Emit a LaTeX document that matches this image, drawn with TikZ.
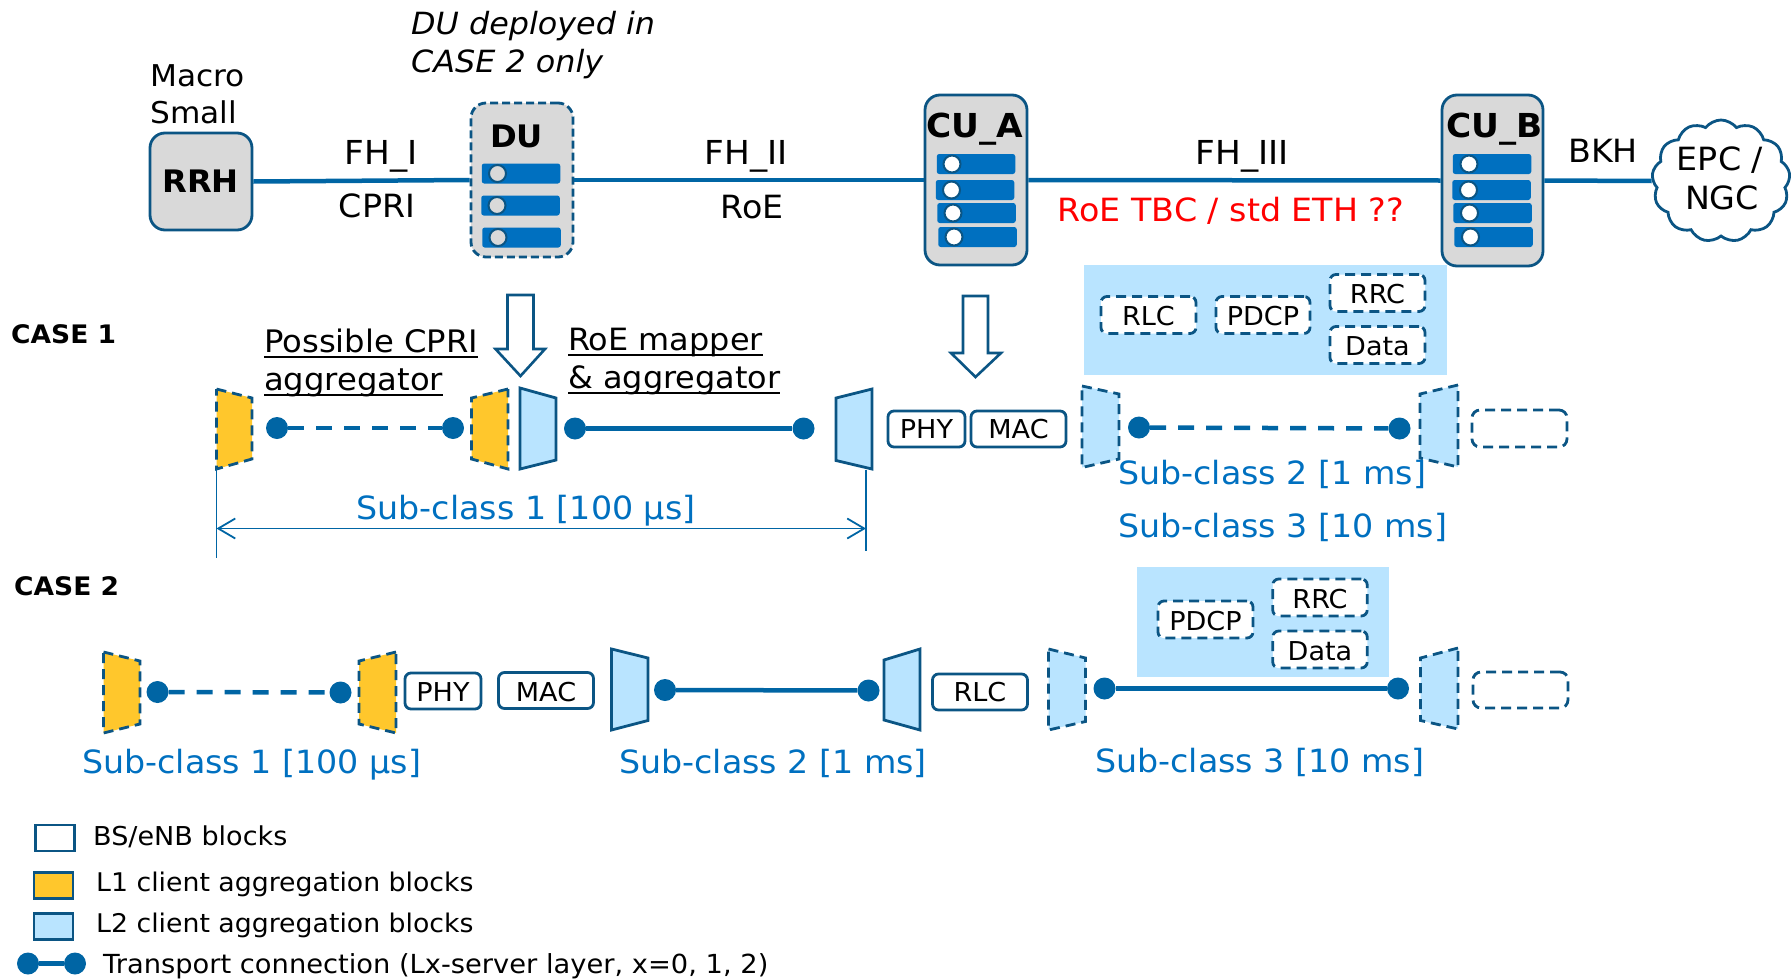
\documentclass[tikz,border=0pt]{standalone}
\usepackage{fontspec}
\setmainfont[FakeStretch=1.04]{DejaVu Sans}
\usetikzlibrary{shapes.symbols,arrows.meta,calc}
\definecolor{edgeblue}{HTML}{0B5584}
\definecolor{linkblue}{HTML}{0065A4}
\definecolor{slotblue}{HTML}{0070C0}
\definecolor{paleblue}{HTML}{B9E4FF}
\definecolor{amber}{HTML}{FFC72C}
\definecolor{panelgray}{HTML}{D9D9D9}
\newcommand\fs[1]{\fontsize{#1}{#1}\selectfont}
\newcommand\ulined[1]{\setbox0=\hbox{#1}\rlap{\rule[-6pt]{\wd0}{2pt}}\box0 }
\tikzset{
  lbl/.style={inner sep=0pt,anchor=base,text=black,font=\fs{32}},
  lblw/.style={lbl,anchor=base west},
  subcl/.style={inner sep=0pt,anchor=base west,text=slotblue,font=\fs{32}},
  legendtxt/.style={inner sep=0pt,anchor=base west,text=black,font=\fs{26}},
  casehead/.style={inner sep=0pt,anchor=base west,text=black,font=\bfseries\fs{25.5}},
  unit/.style={draw=edgeblue,line width=2.8pt,fill=panelgray,rounded corners=15pt,inner sep=0pt},
  unithead/.style={inner sep=0pt,anchor=base,text=black,font=\bfseries\fs{31}},
  slot/.style={fill=slotblue,rounded corners=2.5pt,inner sep=0pt,minimum width=78.5pt,minimum height=20pt},
  knobg/.style={circle,draw=edgeblue,line width=2pt,fill=panelgray,inner sep=0pt,minimum size=17pt},
  knobw/.style={knobg,fill=white},
  layerbox/.style={draw=edgeblue,line width=2.8pt,fill=white,rounded corners=6pt,inner sep=0pt,font=\fs{26},text=black},
  dashbox/.style={layerbox,dash pattern=on 10pt off 6pt,text height=21pt,text depth=0pt},
  panel/.style={fill=paleblue,inner sep=0pt},
  dot/.style={circle,fill=linkblue,inner sep=0pt,minimum size=22pt},
  linkline/.style={draw=linkblue,line width=4.5pt},
  linkdash/.style={linkline,dash pattern=on 16pt off 12pt},
  trapsolid/.style={draw=edgeblue,line width=2.8pt,line join=miter},
  trapdash/.style={draw=edgeblue,line width=2.8pt,dash pattern=on 10pt off 6pt},
  hollow/.style={draw=edgeblue,line width=2.6pt,fill=white,line join=miter},
  span/.style={draw=linkblue,line width=1.8pt},
  legbox/.style={draw=edgeblue,line width=2.8pt,inner sep=0pt,minimum width=39pt,minimum height=26pt},
}
\begin{document}
\begin{tikzpicture}[x=1pt,y=-1pt]
\useasboundingbox (0,0) rectangle (1792,980);

% top row units
\node[unit,minimum width=102pt,minimum height=97pt] (rrh) at (201,181.5) {};
\node[unithead] (rrhl) at (200.5,192.5) {RRH};
\node[unit,dash pattern=on 8pt off 4pt,minimum width=102pt,minimum height=154pt] (du) at (522,180) {};
\node[unithead] (dul) at (516.5,147) {DU};
\node[slot] (ds1) at (521,173.5) {};
\node[slot] (ds2) at (520.5,205.5) {};
\node[slot] (ds3) at (521.5,237.5) {};
\node[knobg] (dk1) at (497.5,173.5) {};
\node[knobg] (dk2) at (497,205.5) {};
\node[knobg] (dk3) at (498,237.5) {};

\node[unit,minimum width=102pt,minimum height=170pt] (cua) at (976,180) {};
\node[unithead,font=\bfseries\fs{33}] (cual) at (974.5,137) {CU\_A};
\node[slot] (as1) at (976,164) {};
\node[slot] (as2) at (975,190) {};
\node[slot] (as3) at (976.5,213) {};
\node[slot] (as4) at (977.5,237) {};
\node[knobw] (ak1) at (952,164) {};
\node[knobw] (ak2) at (951.5,190) {};
\node[knobw] (ak3) at (953,213) {};
\node[knobw] (ak4) at (954,237) {};

\node[unit,minimum width=101pt,minimum height=171pt] (cub) at (1492.5,180.5) {};
\node[unithead,font=\bfseries\fs{33}] (cubl) at (1494.5,137) {CU\_B};
\node[slot] (bs1) at (1492,164) {};
\node[slot] (bs2) at (1491.5,190) {};
\node[slot] (bs3) at (1492.5,213) {};
\node[slot] (bs4) at (1493.5,237) {};
\node[knobw] (bk1) at (1469,164) {};
\node[knobw] (bk2) at (1468.5,190) {};
\node[knobw] (bk3) at (1469.5,213) {};
\node[knobw] (bk4) at (1470.5,237) {};

\node[cloud,cloud puffs=13,cloud puff arc=105,aspect=1.1,draw=edgeblue,line width=2.8pt,fill=white,inner sep=0pt,minimum width=138pt,minimum height=122pt] (core) at (1721,181) {};
\node[lbl] (epc) at (1720,170) {EPC /};
\node[lbl] (ngc) at (1722,209) {NGC};

\draw[linkline] (rrh.east) -- (du.west);
\draw[linkline] (du.east) -- (cua.west);
\draw[linkline] (cua.east) -- (cub.west);
\draw[linkline] (cub.east) -- (core.west);

% top labels
\node[inner sep=0pt,anchor=west,align=left,font=\fontsize{30}{37.5}\selectfont] (macro) at (150,94.5) {Macro\\Small};
\node[inner sep=0pt,anchor=west,align=left,font=\itshape\fontsize{30.6}{37.5}\selectfont] (dunote) at (411,45) {DU deployed in\\CASE 2 only};
\node[lbl,font=\fs{33}] (fh1) at (381,164) {FH\_I};
\node[lbl] (cpri) at (377,217) {CPRI};
\node[lbl,font=\fs{33}] (fh2) at (746,164) {FH\_II};
\node[lbl] (roe) at (752,218) {RoE};
\node[lbl,font=\fs{33}] (fh3) at (1242,164) {FH\_III};
\node[lbl] (tbc) at (1231,221) {\textcolor{red}{RoE TBC / std ETH ??}};
\node[lbl] (bkh) at (1603,162) {BKH};

% block arrows
\draw[hollow] (507.5,295) -- (533.5,295) -- (533.5,349) -- (545,349) -- (520.5,376) -- (495.5,349) -- (507.5,349) -- cycle;
\draw[hollow] (963,296) -- (988,296) -- (988,353) -- (1001,353) -- (975.5,377) -- (951,353) -- (963,353) -- cycle;

% case 1
\node[casehead] (case1) at (11,343) {CASE 1};
\node[inner sep=0pt,anchor=west,align=left,font=\fontsize{31}{38}\selectfont] (aggl) at (264,362.5) {\ulined{Possible CPRI}\\\ulined{aggregator}};
\node[inner sep=0pt,anchor=west,align=left,font=\fontsize{30.7}{38}\selectfont] (aggr) at (568,361) {\ulined{RoE mapper}\\\ulined{\& aggregator}};

\node[panel,minimum width=363pt,minimum height=110pt] (panel1) at (1265.5,320) {};
\node[dashbox,minimum width=95pt,minimum height=37pt] (rlc1) at (1148.5,315) {RLC};
\node[dashbox,minimum width=94pt,minimum height=37pt] (pdcp1) at (1263,315) {PDCP};
\node[dashbox,minimum width=95pt,minimum height=37pt] (rrc1) at (1377.5,293) {RRC};
\node[dashbox,minimum width=95pt,minimum height=37pt] (data1) at (1377.5,345) {Data};

\draw[trapdash,fill=amber] (216.5,389) -- (252,398) -- (252,459) -- (216.5,469) -- cycle;
\draw[trapdash,fill=amber] (508,389) -- (471.5,398) -- (471.5,459) -- (508,469) -- cycle;
\draw[trapsolid,fill=paleblue] (520,388) -- (556,398) -- (556,460) -- (520,469) -- cycle;
\draw[trapsolid,fill=paleblue] (872,389) -- (836,398) -- (836,460.5) -- (872,469) -- cycle;
\draw[trapdash,fill=paleblue] (1082,386) -- (1119,394) -- (1119,459) -- (1082,467.5) -- cycle;
\draw[trapdash,fill=paleblue] (1458,385) -- (1420,394) -- (1420,458) -- (1458,467) -- cycle;

\node[dot] (c1a) at (277,428) {};
\node[dot] (c1b) at (453,428) {};
\node[dot] (c1c) at (575,428.5) {};
\node[dot] (c1d) at (803.5,428.5) {};
\node[dot] (c1e) at (1139,427.5) {};
\node[dot] (c1f) at (1399.5,428.5) {};
\draw[linkdash] (c1a) -- (c1b);
\draw[linkline] (c1c) -- (c1d);
\draw[linkdash] (c1e) -- (c1f);

\node[layerbox,minimum width=77pt,minimum height=36pt] (phy1) at (926.5,429) {PHY};
\node[layerbox,minimum width=95pt,minimum height=36pt] (mac1) at (1018.5,429) {MAC};
\node[dashbox,minimum width=95pt,minimum height=37pt,rounded corners=8pt] (empty1) at (1519.5,428.5) {};

\coordinate (spanLtop) at (216.5,469);
\coordinate (spanLbot) at (216.5,558);
\coordinate (spanRtop) at (866,470);
\coordinate (spanRbot) at (866,551);
\coordinate (spanL) at (216.5,528.5);
\coordinate (spanR) at (866,528.5);
\draw[span] (spanLtop) -- (spanLbot);
\draw[span] (spanRtop) -- (spanRbot);
\draw[span,{Straight Barb[length=17pt,width=20pt]}-{Straight Barb[length=17pt,width=20pt]}] (spanL) -- (spanR);

\node[subcl,anchor=base] (sc11) at (526,519.5) {Sub-class 1 [100 μs]};
\node[subcl] (sc12) at (1118,484) {Sub-class 2 [1 ms]};
\node[subcl] (sc13) at (1118,537) {Sub-class 3 [10 ms]};

% case 2
\node[casehead] (case2) at (14,595) {CASE 2};
\node[panel,minimum width=252pt,minimum height=110pt] (panel2) at (1263,622) {};
\node[dashbox,minimum width=95pt,minimum height=37pt] (pdcp2) at (1205.5,619.5) {PDCP};
\node[dashbox,minimum width=94.5pt,minimum height=37pt] (rrc2) at (1320,597.5) {RRC};
\node[dashbox,minimum width=94.5pt,minimum height=37pt] (data2) at (1320,649.5) {Data};

\draw[trapdash,fill=amber] (103.5,652) -- (140,661) -- (140,724) -- (103.5,733) -- cycle;
\draw[trapdash,fill=amber] (396,652) -- (359,661) -- (359,724) -- (396,733) -- cycle;
\draw[trapsolid,fill=paleblue] (611.5,649) -- (648,658) -- (648,720.5) -- (611.5,730) -- cycle;
\draw[trapsolid,fill=paleblue] (920,649) -- (884,660) -- (884,720) -- (920,730) -- cycle;
\draw[trapdash,fill=paleblue] (1048.5,649) -- (1085.5,658) -- (1085.5,721.5) -- (1048.5,730) -- cycle;
\draw[trapdash,fill=paleblue] (1458,648) -- (1420.5,658) -- (1420.5,720.5) -- (1458,729) -- cycle;

\node[dot] (c2a) at (157.5,692) {};
\node[dot] (c2b) at (340.5,692.5) {};
\node[dot] (c2c) at (665,690) {};
\node[dot] (c2d) at (868.5,690.5) {};
\node[dot] (c2e) at (1104.5,688.5) {};
\node[dot] (c2f) at (1398,688.5) {};
\draw[linkdash] (c2a) -- (c2b);
\draw[linkline] (c2c) -- (c2d);
\draw[linkline] (c2e) -- (c2f);

\node[layerbox,minimum width=76pt,minimum height=36pt,text height=21pt,text depth=0pt] (phy2) at (443,691) {PHY};
\node[layerbox,minimum width=95pt,minimum height=36pt,text height=21pt,text depth=0pt] (mac2) at (546,690.5) {MAC};
\node[layerbox,minimum width=95pt,minimum height=36pt] (rlc2) at (980,692) {RLC};
\node[dashbox,minimum width=95pt,minimum height=36pt,rounded corners=8pt] (empty2) at (1520.5,690) {};

\node[subcl] (sc21) at (82,773) {Sub-class 1 [100 μs]};
\node[subcl] (sc22) at (619,773) {Sub-class 2 [1 ms]};
\node[subcl] (sc23) at (1095,772) {Sub-class 3 [10 ms]};

% legend
\node[legbox,fill=white] (lg1) at (55,838) {};
\node[legbox,fill=amber] (lg2) at (53.5,885.5) {};
\node[legbox,fill=paleblue] (lg3) at (53.5,926.5) {};
\node[dot] (lg4a) at (28,963.5) {};
\node[dot] (lg4b) at (75,963.5) {};
\draw[linkline] (lg4a) -- (lg4b);
\node[legendtxt] (lt1) at (93,845) {BS/eNB blocks};
\node[legendtxt,font=\fs{25.7}] (lt2) at (96,891) {L1 client aggregation blocks};
\node[legendtxt,font=\fs{25.7}] (lt3) at (96,932) {L2 client aggregation blocks};
\node[legendtxt,font=\fs{26.25}] (lt4) at (103,973) {Transport connection (Lx-server layer, x=0, 1, 2)};
\end{tikzpicture}
\end{document}
